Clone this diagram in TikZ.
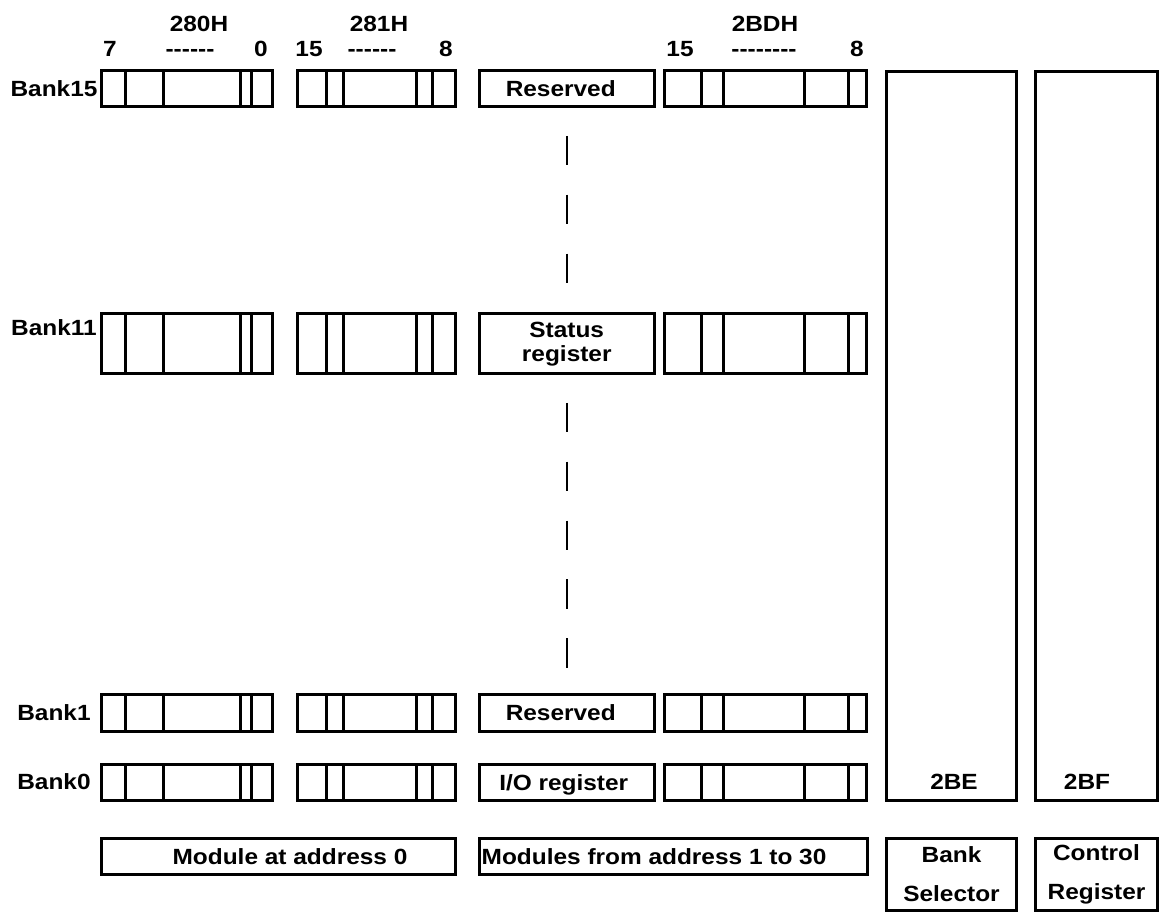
\documentclass[tikz,border=0pt]{standalone}
\usepackage{fontspec}
\newfontfamily\lbfont{Liberation Sans}[FakeStretch=1.11]
\usetikzlibrary{positioning}

\begin{document}
\begin{tikzpicture}[x=1pt, y=-1pt,
    cell/.style={draw, line width=3pt, inner sep=0pt, outer sep=0pt, anchor=north west},
    sep/.style={line width=3pt},
    lbl/.style={font=\lbfont\bfseries\fontsize{22}{24}\selectfont, inner sep=0pt, text height=15.8pt, text depth=0pt},
    lbltwo/.style={font=\lbfont\bfseries\fontsize{22}{24}\selectfont, inner sep=0pt, align=center},
    gap/.style={line width=2pt, dash pattern=on 29.4pt off 29.4pt, dash phase=29.4pt}]

    \useasboundingbox (0,0) rectangle (1161,913);

    % Header
    \node[lbl] (h280) at (199,23.5) {280H};
    \node[lbl] (h281) at (379,23.5) {281H};
    \node[lbl] (h2BD) at (765,23.5) {2BDH};
    \node[lbl] (b7) at (110,49) {7};
    \node[lbl] (r1) at (190,49) {------};
    \node[lbl] (b0) at (261,49) {0};
    \node[lbl] (b15a) at (309,49) {15};
    \node[lbl] (r2) at (372,49) {------};
    \node[lbl] (b8a) at (446,49) {8};
    \node[lbl] (b15b) at (680,49) {15};
    \node[lbl] (r3) at (764,49) {--------};
    \node[lbl] (b8b) at (857,49) {8};

    % Bank rows
    \foreach \bk/\top/\ht in {15/70.5/36, 11/313.5/60, 1/694.5/37, 0/764.5/36} {
        \node[cell, minimum width=171, minimum height=\ht] (lo\bk) at (101.5,\top) {};
        \node[cell, minimum width=158, minimum height=\ht] (hi\bk) at (297.5,\top) {};
        \node[cell, minimum width=174.5, minimum height=\ht] (mid\bk) at (479.5,\top) {};
        \node[cell, minimum width=202, minimum height=\ht] (bd\bk) at (664.5,\top) {};
        \foreach \dx in {24,61.5,138.5,149.5}
            \draw[sep] ([xshift=\dx]lo\bk.north west) -- ([xshift=\dx]lo\bk.south west);
        \foreach \dx in {29,46,118.5,135}
            \draw[sep] ([xshift=\dx]hi\bk.north west) -- ([xshift=\dx]hi\bk.south west);
        \foreach \dx in {37,59,139.5,184}
            \draw[sep] ([xshift=\dx]bd\bk.north west) -- ([xshift=\dx]bd\bk.south west);
    }

    % Bank labels
    \foreach \bk/\y in {15/89, 11/328, 1/713, 0/782}
        \node[lbl] (bank\bk) at (54,\y) {Bank\bk};

    % Module register texts
    \node[lbl] (mt15) at ([xshift=-6]mid15.center) {Reserved};
    \node[lbltwo] (mt11) at ([yshift=-1]mid11.center) {Status\\register};
    \node[lbl] (mt1) at ([xshift=-6]mid1.center) {Reserved};
    \node[lbl] (mt0) at ([xshift=-3]mid0.center) {I/O register};

    % Banks not shown
    \draw[gap] (mid15.south) -- (mid11.north);
    \draw[gap] (mid11.south) -- (mid1.north);

    % Bank selector and control register
    \node[cell, minimum width=130, minimum height=728.5] (c2BE) at (886.5,71.5) {};
    \node[cell, minimum width=122, minimum height=728.5] (c2BF) at (1035.5,71.5) {};
    \node[lbl] (t2BE) at (954,782) {2BE};
    \node[lbl] (t2BF) at (1087,782) {2BF};

    % Bottom captions
    \node[cell, minimum width=354, minimum height=36] (mod0) at (101.5,838.5) {};
    \node[lbl] (mod0t) at (290,856.5) {Module at address 0};
    \node[cell, minimum width=388, minimum height=36] (modn) at (479.5,838.5) {};
    \node[lbl, anchor=west] (modnt) at ([xshift=2]modn.west) {Modules from address 1 to 30};
    \node[cell, minimum width=130, minimum height=72] (bsel) at (886.5,838.5) {};
    \node[lbltwo] (bselt) at (bsel.center) {Bank\\[15pt]Selector};
    \node[cell, minimum width=122, minimum height=72] (ctrl) at (1035.5,838.5) {};
    \node[lbltwo] (ctrlt) at (ctrl.center) {Control\\[15pt]Register};
\end{tikzpicture}
\end{document}
